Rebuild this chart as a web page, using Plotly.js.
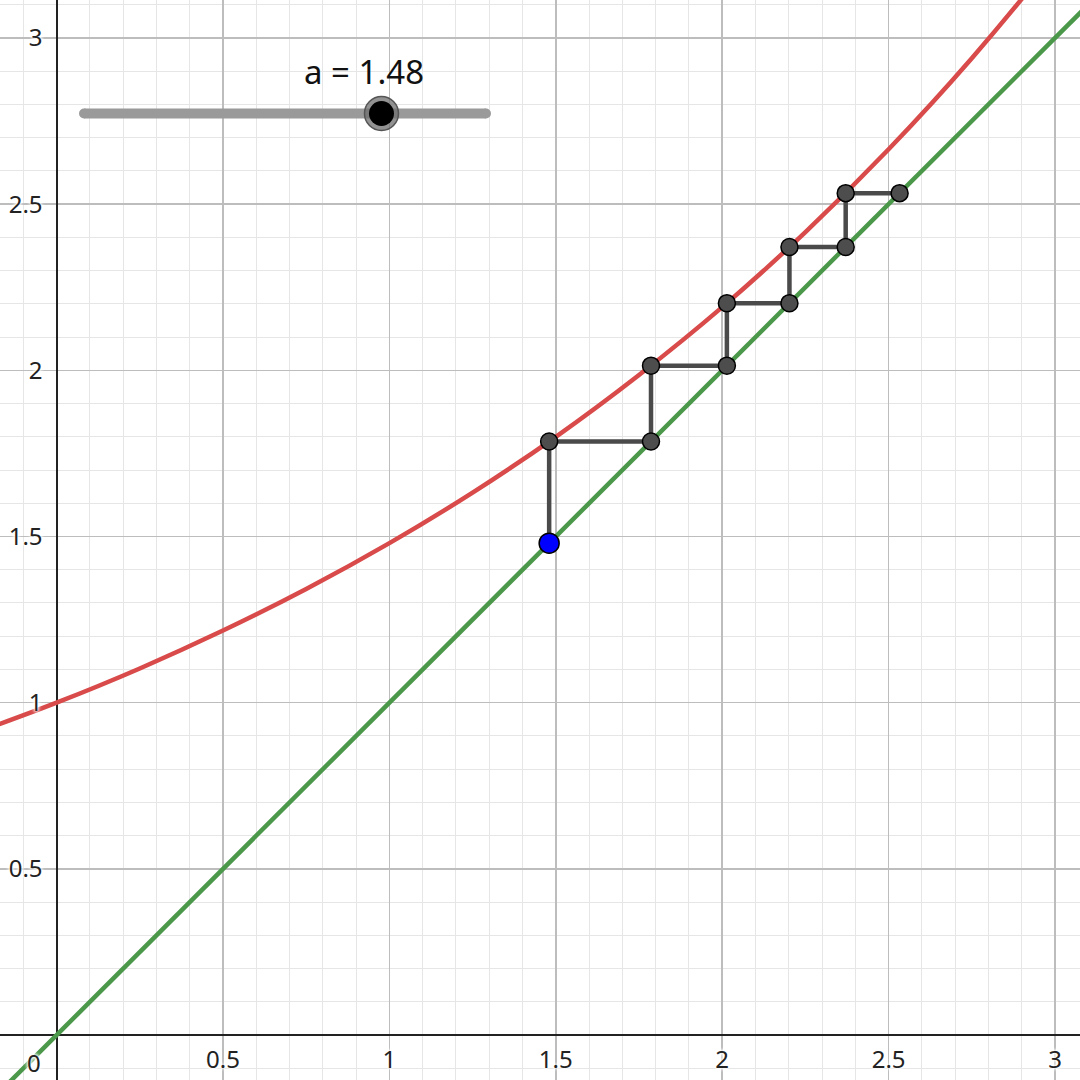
<!DOCTYPE html>
<html>
<head>
<meta charset="utf-8">
<script src="https://cdn.plot.ly/plotly-3.0.1.min.js"></script>
<style>html,body{margin:0;padding:0;background:#fff;}#chart{width:1080px;height:1080px;}</style>
</head>
<body>
<div id="chart"></div>
<script>
// ---- data ----
const sliderValue = 1.48;
const sliderMin = 0;
const sliderMax = 2;
const sliderLabel = "a = 1.48";

const curveX = [-0.25, 0, 0.25, 0.5, 0.75, 1.0, 1.25, 1.5, 1.75, 2.0, 2.25, 2.5, 2.75, 3.0, 3.25];
const curveY = [0.907, 1.0, 1.103, 1.217, 1.342, 1.48, 1.632, 1.800, 1.986, 2.190, 2.416, 2.665, 2.939, 3.242, 3.576];

const diagX = [-0.25, 3.25];
const diagY = [-0.25, 3.25];

const cobX = [1.48, 1.48, 1.786, 1.786, 2.014, 2.014, 2.202, 2.202, 2.371, 2.371, 2.533];
const cobY = [1.48, 1.786, 1.786, 2.014, 2.014, 2.202, 2.202, 2.371, 2.371, 2.533, 2.533];

const startX = [1.48];
const startY = [1.48];

const xTickVals = [0.5, 1, 1.5, 2, 2.5, 3];
const xTickText = ["0.5", "1", "1.5", "2", "2.5", "3"];
const yTickVals = [0.5, 1, 1.5, 2, 2.5, 3];
const yTickText = ["0.5", "1", "1.5", "2", "2.5", "3"];

// ---- view ----
const xRange = [-0.170, 3.075];
const yRange = [-0.135, 3.114];
const W = 1080, H = 1080;
const px = v => v / W;          // pixel -> paper x
const py = v => 1 - v / H;      // pixel -> paper y

const fontFam = "Noto Sans, Open Sans, sans-serif";
const halo = "0 0 3px #fff, 0 0 3px #fff, 0 0 4px #fff, 0 0 4px #fff";

const traces = [
  {x: diagX, y: diagY, mode: "lines", line: {color: "#4b984b", width: 4.5}, hoverinfo: "skip"},
  {x: curveX, y: curveY, mode: "lines", line: {color: "#d94a4a", width: 4.5, shape: "spline"}, hoverinfo: "skip"},
  {x: cobX, y: cobY, mode: "lines+markers", line: {color: "#4a4a4a", width: 4.5},
   marker: {size: 17, color: "#4d4d4d", line: {color: "#000", width: 1.5}}, hoverinfo: "skip"},
  {x: startX, y: startY, mode: "markers",
   marker: {size: 20, color: "#0000ff", line: {color: "#000", width: 1.5}}, hoverinfo: "skip"}
];

// slider geometry
const trackL = 84, trackR = 486, trackY = 113.5, trackW = 10;
const knobX = trackL + (trackR - trackL) * (sliderValue - sliderMin) / (sliderMax - sliderMin);
function circ(cx, cy, r, fill, lc, lw) {
  return {type: "circle", xref: "paper", yref: "paper", layer: "above",
    x0: px(cx - r), x1: px(cx + r), y0: py(cy + r), y1: py(cy - r),
    fillcolor: fill, line: {color: lc, width: lw}};
}
const shapes = [
  {type: "line", xref: "paper", yref: "paper", layer: "above",
   x0: px(trackL), x1: px(trackR), y0: py(trackY), y1: py(trackY),
   line: {color: "#9a9a9a", width: trackW}},
  circ(trackL, trackY, trackW / 2, "#9a9a9a", "rgba(0,0,0,0)", 0),
  circ(trackR, trackY, trackW / 2, "#9a9a9a", "rgba(0,0,0,0)", 0),
  circ(knobX, trackY, 17, "rgba(110,110,110,0.75)", "#555", 1.5),
  circ(knobX, trackY, 12.5, "#000", "#000", 0)
];

const layout = {
  width: W, height: H,
  margin: {l: 0, r: 0, t: 0, b: 0, pad: 0},
  paper_bgcolor: "#fff", plot_bgcolor: "#fff",
  showlegend: false,
  font: {family: fontFam, color: "#222"},
  xaxis: {
    range: xRange, fixedrange: true,
    tickmode: "array", tickvals: xTickVals, ticktext: xTickText,
    showgrid: true, gridcolor: "#bdbdbd", gridwidth: 1.5,
    minor: {dtick: 0.1, tick0: 0, showgrid: true, gridcolor: "#e6e6e6", gridwidth: 1, ticks: ""},
    zeroline: true, zerolinecolor: "#222", zerolinewidth: 2,
    showline: false, ticks: "",
    anchor: "free", position: (0 - yRange[0]) / (yRange[1] - yRange[0]),
    tickfont: {size: 24, color: "#222", family: fontFam, shadow: halo},
    ticklabelstandoff: 8,
    automargin: false
  },
  yaxis: {
    range: yRange, fixedrange: true,
    tickmode: "array", tickvals: yTickVals, ticktext: yTickText,
    showgrid: true, gridcolor: "#bdbdbd", gridwidth: 1.5,
    minor: {dtick: 0.1, tick0: 0, showgrid: true, gridcolor: "#e6e6e6", gridwidth: 1, ticks: ""},
    zeroline: true, zerolinecolor: "#222", zerolinewidth: 2,
    showline: false, ticks: "",
    anchor: "free", position: (0 - xRange[0]) / (xRange[1] - xRange[0]),
    tickfont: {size: 24, color: "#222", family: fontFam, shadow: halo},
    ticklabelstandoff: 14,
    automargin: false
  },
  shapes: shapes,
  annotations: [
    {x: 0, y: 0, xref: "x", yref: "y", text: "0", showarrow: false,
     xanchor: "right", yanchor: "top", xshift: -14, yshift: -9,
     font: {size: 24, color: "#222", family: fontFam, shadow: halo}},
    {x: px(364), y: py(72), xref: "paper", yref: "paper", text: sliderLabel, showarrow: false,
     xanchor: "center", yanchor: "middle",
     font: {size: 33, color: "#111", family: fontFam}}
  ]
};

Plotly.newPlot("chart", traces, layout, {staticPlot: true, displayModeBar: false});
</script>
</body>
</html>
